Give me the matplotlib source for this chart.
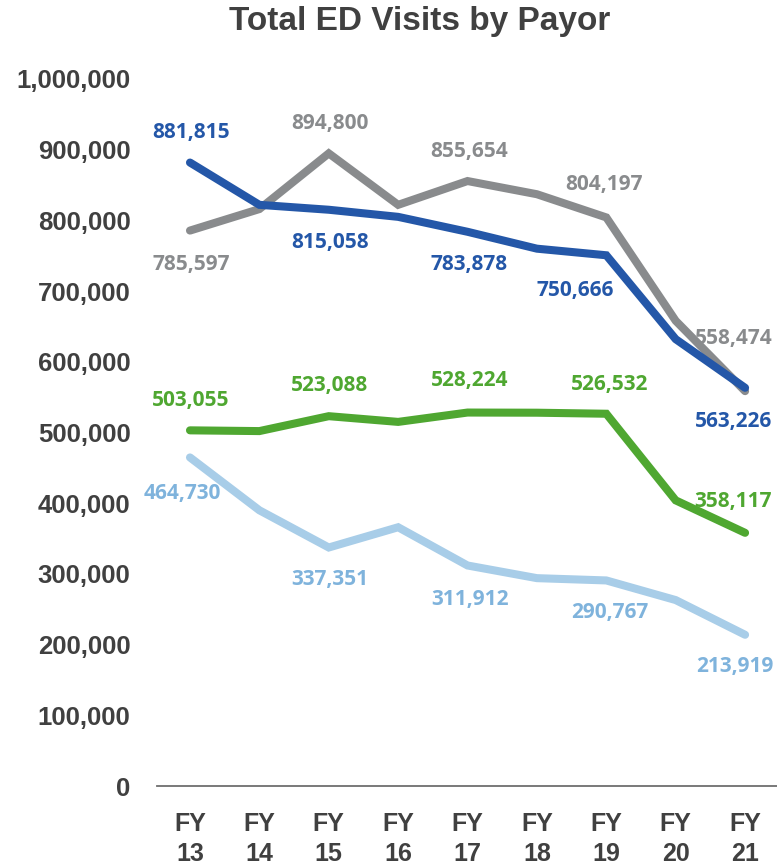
import matplotlib.pyplot as plt
from matplotlib.ticker import FuncFormatter

# data
years = ["FY\n13", "FY\n14", "FY\n15", "FY\n16", "FY\n17", "FY\n18", "FY\n19", "FY\n20", "FY\n21"]
blue_vals = [881815, 822000, 815058, 805000, 783878, 760000, 750666, 632000, 563226]
gray_vals = [785597, 816000, 894800, 822000, 855654, 837000, 804197, 658000, 558474]
green_vals = [503055, 502000, 523088, 515000, 528224, 528000, 526532, 404000, 358117]
light_vals = [464730, 390000, 337351, 366000, 311912, 294000, 290767, 263000, 213919]

# which points get a label, with pixel offsets
blue_lbl = {0: (1, 30), 2: (1, -33), 4: (2, -33), 6: (-31, -35), 8: (-12, -34)}
gray_lbl = {0: (1, -34), 2: (1, 30), 4: (2, 30), 6: (-2, 33), 8: (-11, 53)}
green_lbl = {0: (1, 30), 2: (1, 31), 4: (2, 32), 6: (3, 29), 8: (-12, 31)}
light_lbl = {0: (-8, -36), 2: (1, -32), 4: (2, -34), 6: (3, -32), 8: (-10, -32)}

c_blue = "#2457a8"
c_gray = "#898b8d"
c_green = "#4fa731"
c_light = "#a8cde8"
c_text = "#404040"

narrow = ["Liberation Sans", "DejaVu Sans"]
label_font = ["Open Sans", "DejaVu Sans"]

fig = plt.figure(figsize=(7.77, 8.67), dpi=100)
ax = fig.add_axes([0.202, 0.0934, 0.798, 0.8155])

x = list(range(len(years)))
series = [
    (gray_vals, c_gray, gray_lbl),
    (blue_vals, c_blue, blue_lbl),
    (green_vals, c_green, green_lbl),
    (light_vals, c_light, light_lbl),
]
for vals, col, lbls in series:
    ax.plot(x, vals, color=col, lw=5.8, solid_capstyle="round", solid_joinstyle="miter",
            clip_on=False)
    txt_col = "#7fb3dc" if col == c_light else col
    for i, (dx, dy) in lbls.items():
        ax.annotate(f"{vals[i]:,}", (x[i], vals[i]), xytext=(dx, dy),
                    textcoords="offset pixels", ha="center", va="center",
                    color=txt_col, fontsize=15, fontweight="bold", family=label_font,
                    annotation_clip=False)

ax.set_xlim(-0.476, 8.46)
ax.set_ylim(0, 1000000)
ax.set_yticks(range(0, 1000001, 100000))
ax.yaxis.set_major_formatter(FuncFormatter(lambda v, p: f"{int(v):,}"))
ax.set_xticks(x)
ax.set_xticklabels(years)

for s in ["top", "right", "left"]:
    ax.spines[s].set_visible(False)
ax.spines["bottom"].set_color("#6e6e6e")
ax.spines["bottom"].set_linewidth(1.3)
ax.tick_params(length=0)
ax.tick_params(axis="y", pad=19)
ax.tick_params(axis="x", pad=19)
for t in ax.get_yticklabels():
    t.set_family(narrow)
    t.set_fontsize(18.5)
    t.set_fontweight("bold")
    t.set_color(c_text)
for t in ax.get_xticklabels():
    t.set_family(narrow)
    t.set_fontsize(18)
    t.set_fontweight("bold")
    t.set_color(c_text)
    t.set_linespacing(1.3)

fig.text(0.54, 0.975, "Total ED Visits by Payor", ha="center", va="center",
         fontsize=24, fontweight="bold", family=narrow, color=c_text)

fig.savefig("out.png", dpi=100)
